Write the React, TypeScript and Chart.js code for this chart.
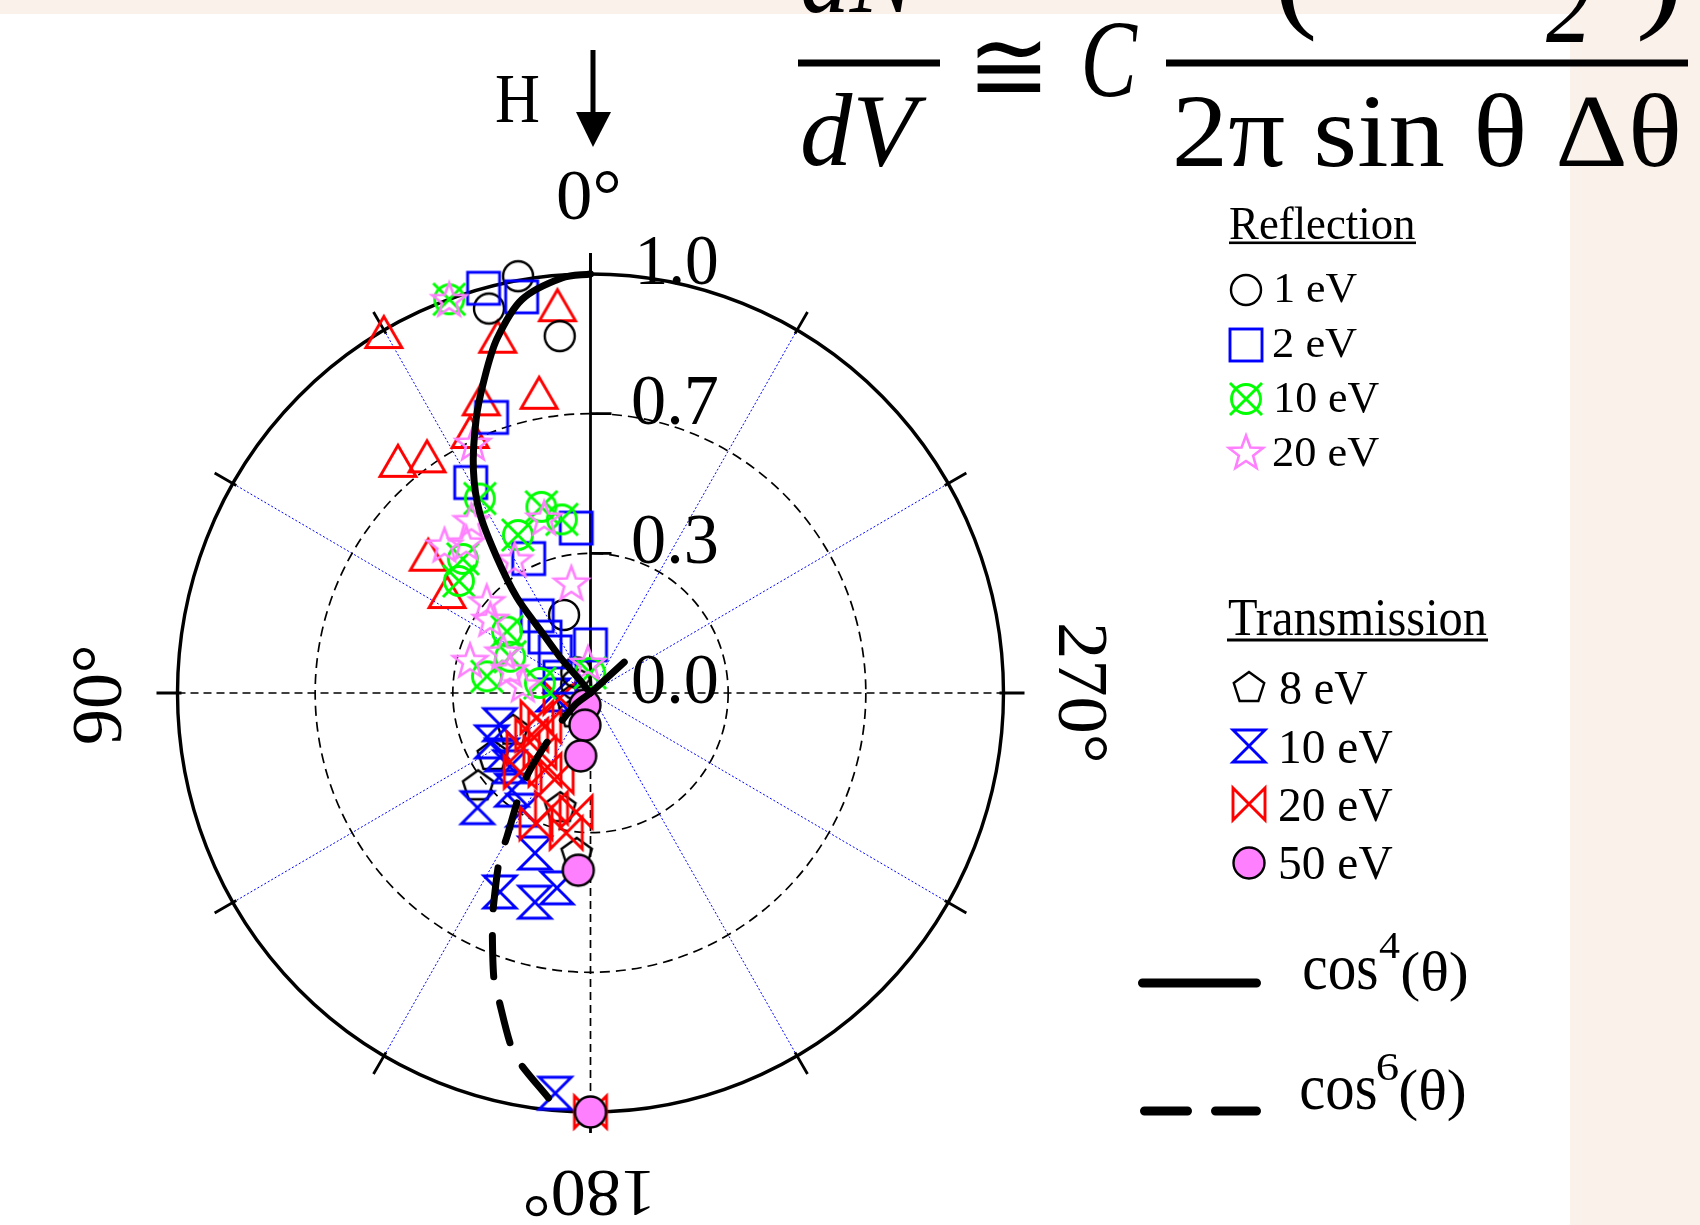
import React, { useEffect, useRef } from 'react';
import { Chart, registerables } from 'chart.js';

Chart.register(...registerables);

// ---------------- data: angle in degrees (0° at top, counter-clockwise), radius 0..1 ----------------
const RING_VALUES = [1 / 3, 2 / 3];
const TICK_VALUES = [0, 1 / 3, 2 / 3, 1];
const TICK_LABELS = ['0.0', '0.3', '0.7', '1.0'];
const SPOKE_DEG = [0, 30, 60, 90, 120, 150, 180, 210, 240, 270, 300, 330];
const ANGLE_LABELS = ['0°', '90°', '180°', '270°'];

const REFLECTION_LABELS = ['1 eV', '2 eV', '10 eV', '20 eV'];
const TRANSMISSION_LABELS = ['8 eV', '10 eV', '20 eV', '50 eV'];
const CURVE_LABELS = ['cos', '4', 'cos', '6'];

// Reflection 1 eV (open black circles)
const R1_DEG = [10, 15, 5, 19, 35, 60];
const R1_R = [1.01, 0.95, 0.855, 0.197, 0.06, 0.04];
// Reflection 2 eV (blue squares)
const R2_DEG = [15, 10, 20, 30, 25, 5, 35, 39.5, 41, 0, 63];
const R2_R = [1.0, 0.96, 0.70, 0.58, 0.354, 0.395, 0.225, 0.173, 0.13, 0.115, 0.083];
// Reflection 10 eV (green crossed circles)
const R10_DEG = [20, 30, 15, 9.5, 25, 44, 50, 54, 66, 81, 79, 1];
const R10_R = [1.0, 0.536, 0.46, 0.42, 0.416, 0.445, 0.416, 0.25, 0.213, 0.254, 0.125, 0.048];
// Reflection 20 eV (pink stars)
const R20_DEG = [20, 25.5, 35, 15, 45, 40, 30, 10, 49, 54, 65, 75, 74, 83, 5];
const R20_R = [1.0, 0.661, 0.503, 0.433, 0.5, 0.468, 0.368, 0.267, 0.333, 0.3, 0.233, 0.302, 0.2025, 0.165, 0.072];
// Unlabelled series (red triangles)
const TRI_DEG = [5, 30.5, 15, 21, 10, 25.5, 40.7, 35.6, 51, 56.6];
const TRI_R = [0.917, 0.986, 0.868, 0.738, 0.7155, 0.677, 0.715, 0.68, 0.5055, 0.416];
// Transmission 8 eV (black pentagons)
const T8_DEG = [122, 129, 175, 115, 165, 140, 110];
const T8_R = [0.279, 0.35, 0.383, 0.207, 0.282, 0.06, 0.05];
// Transmission 10 eV (blue hourglasses)
const T10_DEG = [93, 109, 116, 124.6, 132, 135, 140.6, 149.7, 160.6, 155.2, 164.9, 170.1, 174.9];
const T10_R = [0.091, 0.232, 0.266, 0.26, 0.263, 0.387, 0.3, 0.324, 0.405, 0.523, 0.517, 0.472, 0.959];
// Transmission 20 eV (red bowties)
const T20_DEG = [99, 114, 126, 125, 129, 139, 138, 149, 158, 161, 173, 157, 170, 180];
const T20_R = [0.075, 0.142, 0.137, 0.174, 0.21, 0.187, 0.254, 0.214, 0.216, 0.29, 0.286, 0.338, 0.339, 1.0];
// Transmission 50 eV (filled pink circles)
const T50_DEG = [155, 170, 171, 176, 180];
const T50_R = [0.032, 0.078, 0.152, 0.424, 1.0];

// cos^4 curve (solid)
const COS4_DEG = [0, 4, 10, 15, 19, 23, 28, 32, 35, 38, 39, 40.7, 40, 0];
const COS4_R = [1, 0.993, 0.954, 0.875, 0.791, 0.709, 0.604, 0.506, 0.396, 0.29, 0.194, 0.113, 0.04, 0];
const SPUR_DEG = [0, 312];
const SPUR_R = [0, 0.11];
// cos^6 curve (dashed)
const COS6_DEG = [174, 169, 167, 163, 161, 157, 155.5, 151, 149.5, 144.4, 141.4, 136, 127, 90];
const COS6_R = [0.972, 0.899, 0.861, 0.762, 0.719, 0.6085, 0.569, 0.455, 0.399, 0.293, 0.235, 0.123, 0.047, 0];

// ---------------- helpers ----------------
const BEIGE = '#FBF1EB';
const SERIF = '"Liberation Serif", "Times New Roman", serif';

const toXY = (deg: number[], r: number[]) =>
  deg.map((d, i) => ({
    x: -r[i] * Math.sin((d * Math.PI) / 180),
    y: r[i] * Math.cos((d * Math.PI) / 180),
  }));

function mk(draw: (g: CanvasRenderingContext2D) => void) {
  const c = document.createElement('canvas');
  c.width = 50;
  c.height = 50;
  const g = c.getContext('2d')!;
  g.translate(25, 25);
  g.lineJoin = 'miter';
  draw(g);
  return c;
}

function makeMarkers() {
  const LW = 2.9;
  const circle = mk((g) => {
    g.beginPath();
    g.arc(0, 0, 15, 0, Math.PI * 2);
    g.lineWidth = 2.4;
    g.strokeStyle = '#000';
    g.stroke();
  });
  const square = mk((g) => {
    g.lineWidth = LW;
    g.strokeStyle = '#0000FF';
    g.strokeRect(-16, -16, 32, 32);
  });
  const circX = mk((g) => {
    g.lineWidth = LW;
    g.strokeStyle = '#00FF00';
    g.beginPath();
    g.arc(0, 0, 14.5, 0, Math.PI * 2);
    g.stroke();
    g.beginPath();
    g.moveTo(-16, -16);
    g.lineTo(16, 16);
    g.moveTo(-16, 16);
    g.lineTo(16, -16);
    g.stroke();
  });
  const star = mk((g) => {
    g.lineWidth = 2.6;
    g.strokeStyle = '#FF80FF';
    g.beginPath();
    for (let k = 0; k < 10; k++) {
      const rr = k % 2 === 0 ? 18 : 7.5;
      const a = -Math.PI / 2 + (k * Math.PI) / 5;
      const px = rr * Math.cos(a);
      const py = rr * Math.sin(a) + 1.5;
      if (k === 0) g.moveTo(px, py);
      else g.lineTo(px, py);
    }
    g.closePath();
    g.stroke();
  });
  const tri = mk((g) => {
    g.lineWidth = LW;
    g.strokeStyle = '#FF0000';
    g.beginPath();
    g.moveTo(0, -20.5);
    g.lineTo(18, 10.5);
    g.lineTo(-18, 10.5);
    g.closePath();
    g.stroke();
  });
  const pent = mk((g) => {
    g.lineWidth = 2.4;
    g.strokeStyle = '#000';
    g.beginPath();
    for (let k = 0; k < 5; k++) {
      const a = -Math.PI / 2 + (k * 2 * Math.PI) / 5;
      const px = 16 * Math.cos(a);
      const py = 16 * Math.sin(a) + 1;
      if (k === 0) g.moveTo(px, py);
      else g.lineTo(px, py);
    }
    g.closePath();
    g.stroke();
  });
  const hour = mk((g) => {
    g.lineWidth = LW;
    g.strokeStyle = '#0000FF';
    g.beginPath();
    g.moveTo(-16, -16);
    g.lineTo(16, -16);
    g.lineTo(-16, 16);
    g.lineTo(16, 16);
    g.closePath();
    g.stroke();
  });
  const bow = mk((g) => {
    g.lineWidth = LW;
    g.strokeStyle = '#FF0000';
    g.beginPath();
    g.moveTo(-16, -16);
    g.lineTo(-16, 16);
    g.lineTo(16, -16);
    g.lineTo(16, 16);
    g.closePath();
    g.stroke();
  });
  const pink = mk((g) => {
    g.beginPath();
    g.arc(0, 0, 15.5, 0, Math.PI * 2);
    g.fillStyle = '#FF80FF';
    g.fill();
    g.lineWidth = 2.4;
    g.strokeStyle = '#000';
    g.stroke();
  });
  return { circle, square, circX, star, tri, pent, hour, bow, pink };
}

// draw text so that its ink box spans L (along baseline) x H (height), bottom-left at (ox, oy)
function drawInk(
  ctx: CanvasRenderingContext2D,
  s: string,
  font: string,
  ox: number,
  oy: number,
  L: number,
  H: number,
  rot = 0
) {
  ctx.save();
  ctx.font = font;
  ctx.textAlign = 'left';
  ctx.textBaseline = 'alphabetic';
  const m = ctx.measureText(s);
  const iw = m.actualBoundingBoxLeft + m.actualBoundingBoxRight;
  const ih = m.actualBoundingBoxAscent + m.actualBoundingBoxDescent;
  const sx = L > 0 ? L / iw : 1;
  const sy = H > 0 ? H / ih : 1;
  ctx.translate(ox, oy);
  ctx.rotate(rot);
  ctx.scale(sx, sy);
  ctx.fillStyle = '#000';
  ctx.fillText(s, m.actualBoundingBoxLeft, -m.actualBoundingBoxDescent);
  ctx.restore();
}
const box = (
  ctx: CanvasRenderingContext2D,
  s: string,
  font: string,
  x0: number,
  y0: number | null,
  x1: number,
  y1: number
) => drawInk(ctx, s, font, x0, y1, x1 - x0, y0 === null ? 0 : y1 - y0);

function geom(chart: any) {
  const xs = chart.scales.x;
  const ys = chart.scales.y;
  const cx = xs.getPixelForValue(0);
  const cy = ys.getPixelForValue(0);
  const RX = xs.getPixelForValue(1) - cx;
  const RY = cy - ys.getPixelForValue(1);
  return { cx, cy, RX, RY };
}

function makePlugin(M: ReturnType<typeof makeMarkers>) {
  return {
    id: 'polarDecor',
    beforeDatasetsDraw(chart: any) {
      const ctx: CanvasRenderingContext2D = chart.ctx;
      const { cx, cy, RX, RY } = geom(chart);
      const rad = (d: number) => (d * Math.PI) / 180;
      ctx.save();
      // blue dotted spokes
      ctx.strokeStyle = '#0000FF';
      ctx.lineWidth = 1;
      ctx.setLineDash([2, 2]);
      SPOKE_DEG.forEach((a) => {
        if (a % 90 === 0) return;
        ctx.beginPath();
        ctx.moveTo(cx, cy);
        ctx.lineTo(cx - RX * Math.sin(rad(a)), cy - RY * Math.cos(rad(a)));
        ctx.stroke();
      });
      // dashed rings
      ctx.strokeStyle = '#000';
      ctx.lineWidth = 1.7;
      ctx.setLineDash([10, 6]);
      RING_VALUES.forEach((v) => {
        ctx.beginPath();
        ctx.ellipse(cx, cy, RX * v, RY * v, 0, 0, Math.PI * 2);
        ctx.stroke();
      });
      // dashed axes
      ctx.setLineDash([8, 5]);
      ctx.lineWidth = 1.7;
      ctx.beginPath();
      ctx.moveTo(cx - RX, cy);
      ctx.lineTo(cx + RX, cy);
      ctx.moveTo(cx, cy);
      ctx.lineTo(cx, cy + RY);
      ctx.stroke();
      // outer ring
      ctx.setLineDash([]);
      ctx.lineWidth = 3.4;
      ctx.beginPath();
      ctx.ellipse(cx, cy, RX, RY, 0, 0, Math.PI * 2);
      ctx.stroke();
      // radial axis (solid) with ticks
      ctx.lineWidth = 2.8;
      ctx.beginPath();
      ctx.moveTo(cx, cy);
      ctx.lineTo(cx, cy - RY - 21);
      TICK_VALUES.forEach((v) => {
        if (v <= 0 || v >= 1) return;
        ctx.moveTo(cx, cy - RY * v);
        ctx.lineTo(cx + 21, cy - RY * v);
      });
      ctx.stroke();
      // outer angular ticks
      ctx.lineWidth = 2.8;
      ctx.beginPath();
      SPOKE_DEG.forEach((a) => {
        const ux = -Math.sin(rad(a));
        const uy = -Math.cos(rad(a));
        const px = cx + RX * ux;
        const py = cy + RY * uy;
        ctx.moveTo(px - 4 * ux, py - 4 * uy);
        ctx.lineTo(px + 21 * ux, py + 21 * uy);
      });
      ctx.stroke();
      ctx.restore();
    },
    afterDraw(chart: any) {
      const ctx: CanvasRenderingContext2D = chart.ctx;
      const { cx, cy, RY } = geom(chart);
      const F = (s: number, it = false) => `${it ? 'italic ' : ''}${s}px ${SERIF}`;

      // radial tick labels
      TICK_VALUES.forEach((v, i) => {
        const ry = cy - RY * v;
        const x0 = v === 1 ? cx + 49.5 : cx + 42.5;
        box(ctx, TICK_LABELS[i], F(74), x0, ry - 38.5, cx + 126.5, ry + 11);
      });
      // angle labels
      box(ctx, ANGLE_LABELS[0], F(74), cx - 32.5, 170, cx + 27.5, 220);
      drawInk(ctx, ANGLE_LABELS[1], F(74), 122, cy + 50, 95, 50, -Math.PI / 2);
      drawInk(ctx, ANGLE_LABELS[2], F(74), cx + 59.5, 1170, 124, 47, Math.PI);
      drawInk(ctx, ANGLE_LABELS[3], F(74), 1058, cy - 68, 135, 50, Math.PI / 2);

      // H and arrow
      box(ctx, 'H', F(68), 496, 77, 539, 122);
      ctx.save();
      ctx.fillStyle = '#000';
      ctx.fillRect(590.5, 50, 5, 66);
      ctx.beginPath();
      ctx.moveTo(576, 112);
      ctx.lineTo(611, 112);
      ctx.lineTo(593, 147);
      ctx.closePath();
      ctx.fill();
      ctx.restore();

      // formula
      box(ctx, 'dN', F(108, true), 803, null, 921, 13);
      ctx.fillStyle = '#000';
      ctx.fillRect(798, 59.5, 142, 7);
      box(ctx, 'dV', F(108, true), 803, 93, 927, 167);
      box(ctx, '≅', `80px ${SERIF}`, 977, 40, 1041, 92);
      box(ctx, 'C', F(110, true), 1085, 23, 1138, 97);
      ctx.fillStyle = '#000';
      ctx.fillRect(1166, 59.5, 522, 7);
      box(ctx, '(', F(130), 1279, null, 1314, 42);
      box(ctx, '2', F(108, true), 1546, null, 1590, 42);
      box(ctx, ')', F(130), 1640, null, 1678, 42);
      box(ctx, '2π sin θ Δθ', F(108), 1176, 93, 1678, 167);

      // legend: reflection
      box(ctx, 'Reflection', F(47), 1230, 207, 1415, 239);
      ctx.fillStyle = '#000';
      ctx.fillRect(1229, 241.5, 187, 2.6);
      const refBoxes = [
        [1277, 273, 1357, 303],
        [1274, 328, 1357, 358],
        [1277, 382, 1379, 412.5],
        [1274, 437, 1379, 467],
      ];
      const refMarks = [M.circle, M.square, M.circX, M.star];
      const refY = [290, 345, 399, 452];
      REFLECTION_LABELS.forEach((s, i) => {
        const b = refBoxes[i];
        box(ctx, s, F(46), b[0], b[1], b[2], b[3]);
        const c = refMarks[i];
        ctx.drawImage(c, 1246 - c.width / 2, refY[i] - c.height / 2);
      });

      // legend: transmission
      box(ctx, 'Transmission', F(48), 1228, 600, 1487, 635);
      ctx.fillStyle = '#000';
      ctx.fillRect(1227, 638.5, 261, 3);
      const trBoxes = [
        [1280, 672, 1368, 705.5],
        [1282, 730, 1393, 764],
        [1280, 788, 1393, 822],
        [1280, 846, 1393, 880],
      ];
      const trMarks = [M.pent, M.hour, M.bow, M.pink];
      const trY = [687, 746, 804, 863];
      TRANSMISSION_LABELS.forEach((s, i) => {
        const b = trBoxes[i];
        box(ctx, s, F(48), b[0], b[1], b[2], b[3]);
        const c = trMarks[i];
        ctx.drawImage(c, 1249 - c.width / 2, trY[i] - c.height / 2);
      });

      // legend: curves
      ctx.save();
      ctx.strokeStyle = '#000';
      ctx.lineWidth = 9;
      ctx.lineCap = 'round';
      ctx.beginPath();
      ctx.moveTo(1142.5, 983);
      ctx.lineTo(1256.5, 983);
      ctx.moveTo(1144.5, 1111);
      ctx.lineTo(1187.5, 1111);
      ctx.moveTo(1215.5, 1111);
      ctx.lineTo(1256.5, 1111);
      ctx.stroke();
      ctx.restore();
      box(ctx, CURVE_LABELS[0], F(66), 1304, 958, 1377, 990);
      box(ctx, CURVE_LABELS[1], F(38), 1379, 933, 1400, 958);
      box(ctx, '(θ)', F(66), 1402, 952, 1467, 1003);
      box(ctx, CURVE_LABELS[2], F(66), 1301, 1078, 1376, 1110);
      box(ctx, CURVE_LABELS[3], F(38), 1377, 1053, 1398, 1080);
      box(ctx, '(θ)', F(66), 1400, 1070, 1465, 1122);
    },
  };
}

export default function App() {
  const ref = useRef<HTMLCanvasElement>(null);

  useEffect(() => {
    document.body.style.margin = '0';
    const M = makeMarkers();
    const markerSet = (data: { x: number; y: number }[], style: HTMLCanvasElement, label: string) => ({
      label,
      data,
      showLine: false,
      pointStyle: style,
      pointRadius: 15,
      pointHoverRadius: 15,
      clip: false as any,
    });
    const curve = (data: { x: number; y: number }[], label: string, dash: number[] = [], tension = 0) => ({
      label,
      data,
      showLine: true,
      pointRadius: 0,
      pointHoverRadius: 0,
      borderColor: '#000',
      borderWidth: 7,
      borderDash: dash,
      borderCapStyle: 'round' as const,
      borderJoinStyle: 'round' as const,
      tension,
      clip: false as any,
    });

    const chart = new Chart(ref.current!, {
      type: 'scatter',
      data: {
        datasets: [
          curve(toXY(COS4_DEG, COS4_R), 'cos4(θ)', [], 0.3),
          curve(toXY(SPUR_DEG, SPUR_R), 'cos4 tail'),
          curve(toXY(COS6_DEG, COS6_R), 'cos6(θ)', [41, 27], 0.3),
          markerSet(toXY(T50_DEG, T50_R), M.pink, 'T 50 eV'),
          markerSet(toXY(R20_DEG, R20_R), M.star, 'R 20 eV'),
          markerSet(toXY(R10_DEG, R10_R), M.circX, 'R 10 eV'),
          markerSet(toXY(R2_DEG, R2_R), M.square, 'R 2 eV'),
          markerSet(toXY(R1_DEG, R1_R), M.circle, 'R 1 eV'),
          markerSet(toXY(TRI_DEG, TRI_R), M.tri, 'triangles'),
          markerSet(toXY(T20_DEG, T20_R), M.bow, 'T 20 eV'),
          markerSet(toXY(T10_DEG, T10_R), M.hour, 'T 10 eV'),
          markerSet(toXY(T8_DEG, T8_R), M.pent, 'T 8 eV'),
        ] as any,
      },
      options: {
        responsive: false,
        animation: false,
        events: [],
        layout: { padding: { left: 177.5, right: 1700 - 1003.5, top: 274, bottom: 1225 - 1112 } },
        scales: {
          x: { type: 'linear', min: -1, max: 1, display: false },
          y: { type: 'linear', min: -1, max: 1, display: false },
        },
        plugins: { legend: { display: false }, tooltip: { enabled: false } },
      },
      plugins: [makePlugin(M)],
    });
    return () => chart.destroy();
  }, []);

  return (
    <div
      style={{
        position: 'fixed',
        left: 0,
        top: 0,
        width: 1700,
        height: 1225,
        background: BEIGE,
        overflow: 'hidden',
      }}
    >
      <div style={{ position: 'absolute', left: 0, top: 14, width: 1570, height: 1211, background: '#fff' }} />
      <canvas
        ref={ref}
        width={1700}
        height={1225}
        style={{ position: 'absolute', left: 0, top: 0, width: 1700, height: 1225, display: 'block' }}
      />
    </div>
  );
}
